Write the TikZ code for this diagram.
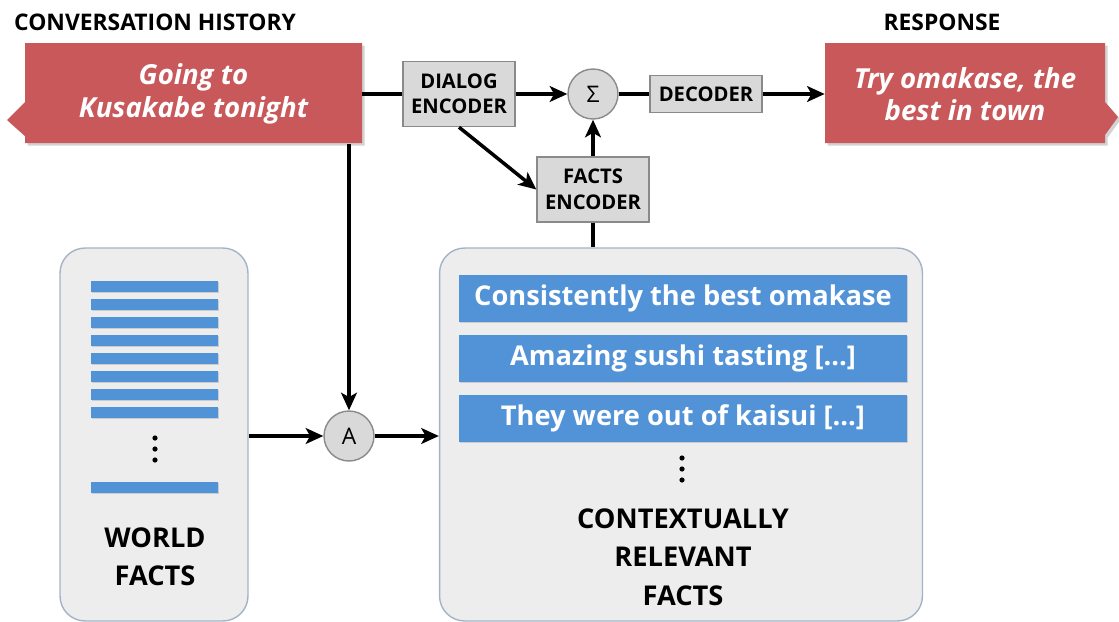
\documentclass[tikz,border=0pt]{standalone}
\usepackage{fontspec}
\setmainfont{Open Sans}
\usepackage{tikz}
\usetikzlibrary{arrows.meta,shadows}
\usetikzlibrary{positioning}

\definecolor{callred}{HTML}{C9585A}
\definecolor{factblue}{HTML}{5293D8}
\definecolor{encgray}{HTML}{D9D9D9}
\definecolor{encline}{HTML}{8A8A8A}
\definecolor{panelgray}{HTML}{EDEDED}
\definecolor{panelline}{HTML}{A4B3C6}

\begin{document}
\begin{tikzpicture}[%
x={(0.02cm,0cm)},
y={(0cm,-0.02cm)},
enc/.style={rectangle,fill=encgray,draw=encline,line width=0.8pt,align=center,inner sep=0pt,font=\fontsize{11.5}{14.5}\selectfont\bfseries},
op/.style={circle,fill=encgray,draw=encline,line width=0.8pt,minimum size=1cm,inner sep=0pt,font=\fontsize{13}{13}\selectfont},
panel/.style={rectangle,rounded corners=0.5cm,fill=panelgray,draw=panelline,line width=0.8pt,minimum width=#1,minimum height=7.46cm},
bar/.style={rectangle,fill=factblue,inner sep=0pt,drop shadow={shadow xshift=0.8pt,shadow yshift=-0.8pt,opacity=0.3}},
fact/.style={bar,minimum width=8.96cm,minimum height=0.94cm,text=white,font=\fontsize{15.5}{20}\selectfont\bfseries},
bubble/.style={fill=callred,drop shadow={shadow xshift=1.5pt,shadow yshift=-1.5pt,opacity=0.35}},
say/.style={text=white,align=center,font=\fontsize{15.7}{18.5}\selectfont\bfseries\itshape},
head/.style={font=\fontsize{13}{15}\selectfont\bfseries},
big/.style={align=center,font=\fontsize{15.5}{21.8}\selectfont\bfseries},
conn/.style={line width=2pt},
arr/.style={conn,-{Stealth[length=10pt,width=9pt,inset=2.5pt]}},
]
\useasboundingbox (0,0) rectangle (1119,622);

%Ueberschriften
\node[head](histlbl) at (155,22){CONVERSATION HISTORY};
\node[head](resplbl) at (942,22){RESPONSE};

%Sprechblasen
\fill[bubble] (25,43) -- (362,43) -- (362,143) -- (25,143) -- (25,136)
  -- (7,120) -- (25,102) -- cycle;
\fill[bubble] (825,43) -- (1105,43) -- (1105,102) -- (1118,117) -- (1105,135)
  -- (1105,143) -- (825,143) -- cycle;
\node[say,minimum width=6.74cm,minimum height=2cm](hist) at (193.5,94){Going to\\Kusakabe tonight};
\node[say,minimum width=5.6cm,minimum height=2cm](resp) at (965,94){Try omakase, the\\best in town};

%Encoder und Decoder
\node[enc,minimum width=2.24cm,minimum height=1.3cm](dlg) at (459,94){DIALOG\\ENCODER};
\node[op](sum) at (593,94){Σ};
\node[enc,minimum width=2.24cm,minimum height=0.74cm](dec) at (706,94){DECODER};
\node[enc,minimum width=2.24cm,minimum height=1.3cm](fenc) at (593,189.5){FACTS\\ENCODER};
\node[op](att) at (349,436){A};

%Faktenspeicher
\node[panel=3.76cm](world) at (154,434.5){};
\node[panel=9.66cm](ctx) at (681,434.5){};

\foreach \y in {0,...,7}
  \node[bar,minimum width=2.54cm,minimum height=0.22cm](wbar\y) at (154.5,286.5+18*\y){};
\node[bar,minimum width=2.54cm,minimum height=0.22cm](wlast) at (154.5,487.5){};
\foreach \y in {438,449,460}
  \fill (155,\y) circle (2.6);
\node[big](worldlbl) at (155,557){WORLD\\FACTS};

\node[fact](fact1) at (683,298.5){Consistently the best omakase};
\node[fact](fact2) at (683,358.5){Amazing sushi tasting [...]};
\node[fact](fact3) at (683,418){They were out of kaisui [...]};
\foreach \y in {458,469,480}
  \fill (682,\y) circle (2.6);
\node[big](ctxlbl) at (683,557){CONTEXTUALLY\\RELEVANT\\FACTS};

%Verbindungen
\draw[conn] (hist.east) -- (dlg.west);
\draw[arr] (dlg.east) -- (sum.west);
\draw[conn] (sum.east) -- (dec.west);
\draw[arr] (dec.east) -- (resp.west);
\draw[arr] (dlg.south) -- (fenc.west);
\draw[arr] (fenc.north) -- (sum.south);
\draw[conn] (fenc.south) -- (fenc.south |- ctx.north);
\draw[arr] (hist.south -| att.north) -- (att.north);
\draw[arr] (world.east |- att.west) -- (att.west);
\draw[arr] (att.east) -- (ctx.west |- att.east);

\end{tikzpicture}
\end{document}
